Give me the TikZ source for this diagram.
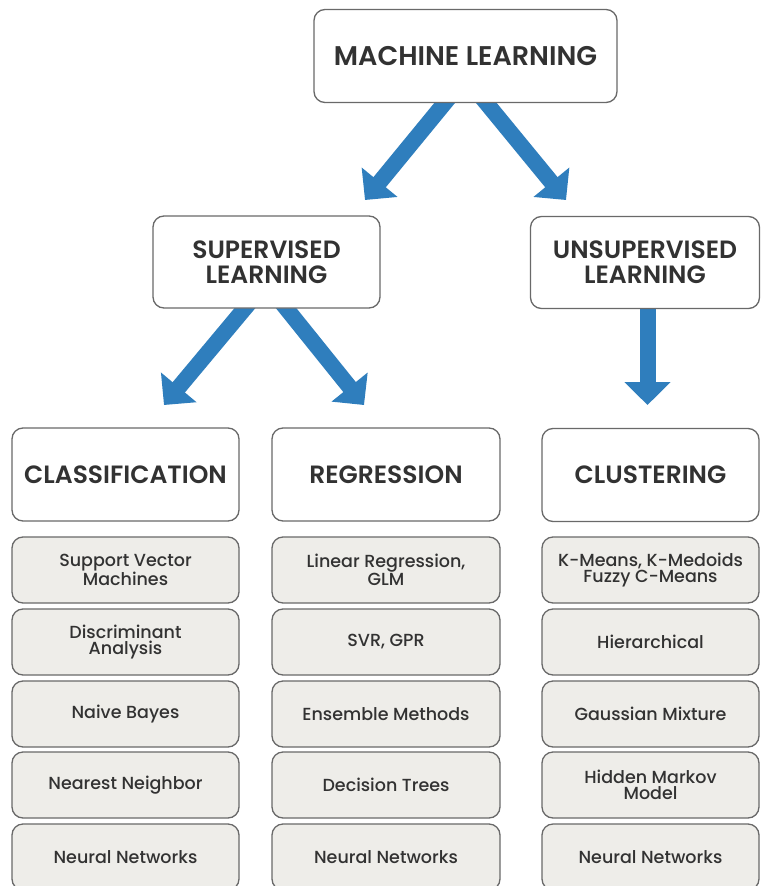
\documentclass[tikz,border=0pt]{standalone}
\usepackage{fontspec}
\setmainfont{Poppins}[BoldFont={Poppins SemiBold}]
\newfontfamily\itemfont{Poppins Medium}
\usetikzlibrary{arrows.meta,calc,positioning}
\definecolor{arrowblue}{RGB}{47,126,189}
\definecolor{boxline}{RGB}{105,105,105}
\definecolor{itemfill}{RGB}{238,237,233}
\definecolor{txt}{RGB}{50,50,50}
\pgfdeclarelayer{bg}
\pgfsetlayers{bg,main}
\tikzset{
  titlebox/.style={draw=boxline, line width=1.3pt, rounded corners=11pt, fill=white,
    inner sep=0pt, align=center, text=txt,
    font=\fontsize{25}{25}\selectfont\bfseries},
  itembox/.style={draw=boxline, line width=1.3pt, rounded corners=11pt, fill=itemfill,
    inner sep=0pt, align=center, text=txt,
    font=\itemfont\fontsize{17.5}{16}\selectfont},
  bluearrow/.style={draw=arrowblue, line width=16pt,
    -{Triangle[width=45pt,length=23pt]}}
}
\begin{document}
\begin{tikzpicture}[x=1pt,y=-1pt]
\clip (0,0) rectangle (761,886);

% top levels
\node[titlebox, minimum width=303pt, minimum height=93pt, font=\fontsize{27}{27}\selectfont\bfseries] (ml) at (465.5,56) {MACHINE LEARNING};
\node[titlebox, minimum width=227pt, minimum height=92pt] (sup) at (266.5,262) {SUPERVISED\\LEARNING};
\node[titlebox, minimum width=229pt, minimum height=92pt] (unsup) at (645,262.5) {UNSUPERVISED\\LEARNING};

% third level
\node[titlebox, minimum width=227pt, minimum height=93pt] (cls) at (125.5,474.5) {CLASSIFICATION};
\node[titlebox, minimum width=228pt, minimum height=93pt] (reg) at (386,474.5) {REGRESSION};
\node[titlebox, minimum width=217pt, minimum height=93pt] (clu) at (650.5,475) {CLUSTERING};

% items: classification
\node[itembox, minimum width=227pt, minimum height=66pt] (c1) at (125.5,570) {Support Vector\\Machines};
\node[itembox, minimum width=227pt, minimum height=66pt] (c2) at (125.5,642) {Discriminant\\Analysis};
\node[itembox, minimum width=227pt, minimum height=66pt] (c3) at (125.5,714) {Naive Bayes};
\node[itembox, minimum width=227pt, minimum height=66pt] (c4) at (125.5,785) {Nearest Neighbor};
\node[itembox, minimum width=227pt, minimum height=66pt] (c5) at (125.5,857) {Neural Networks};

% items: regression
\node[itembox, minimum width=228pt, minimum height=66pt] (r1) at (386,570) {Linear Regression,\\GLM};
\node[itembox, minimum width=228pt, minimum height=66pt] (r2) at (386,642) {SVR, GPR};
\node[itembox, minimum width=228pt, minimum height=66pt] (r3) at (386,714) {Ensemble Methods};
\node[itembox, minimum width=228pt, minimum height=66pt] (r4) at (386,785) {Decision Trees};
\node[itembox, minimum width=228pt, minimum height=66pt] (r5) at (386,857) {Neural Networks};

% items: clustering
\node[itembox, minimum width=217pt, minimum height=66pt] (k1) at (650.5,570) {K-Means, K-Medoids\\Fuzzy C-Means};
\node[itembox, minimum width=217pt, minimum height=66pt] (k2) at (650.5,642) {Hierarchical};
\node[itembox, minimum width=217pt, minimum height=66pt] (k3) at (650.5,714) {Gaussian Mixture};
\node[itembox, minimum width=217pt, minimum height=66pt] (k4) at (650.5,785) {Hidden Markov\\Model};
\node[itembox, minimum width=217pt, minimum height=66pt] (k5) at (650.5,857) {Neural Networks};

% arrow tips
\coordinate (t1) at (365,200);
\coordinate (t2) at (566,200);
\coordinate (t3) at (164,405);
\coordinate (t4) at (364,405);
\coordinate (t5) at (647.5,405);

% arrow starts
\coordinate (s1) at ($(ml.south)+(-21,0)$);
\coordinate (s2) at ($(ml.south)+(21,0)$);
\coordinate (s3) at ($(sup.south)+(-22,0)$);
\coordinate (s4) at ($(sup.south)+(20,0)$);
\coordinate (s5) at ($(unsup.south)+(2.5,0)$);

\begin{pgfonlayer}{bg}
\fill[white] (0,0) rectangle (761,886);
\draw[bluearrow] ($(s1)!-10pt!(t1)$) -- (t1);
\draw[bluearrow] ($(s2)!-10pt!(t2)$) -- (t2);
\draw[bluearrow] ($(s3)!-10pt!(t3)$) -- (t3);
\draw[bluearrow] ($(s4)!-10pt!(t4)$) -- (t4);
\draw[bluearrow] ($(s5)!-10pt!(t5)$) -- (t5);
\end{pgfonlayer}
\end{tikzpicture}
\end{document}
